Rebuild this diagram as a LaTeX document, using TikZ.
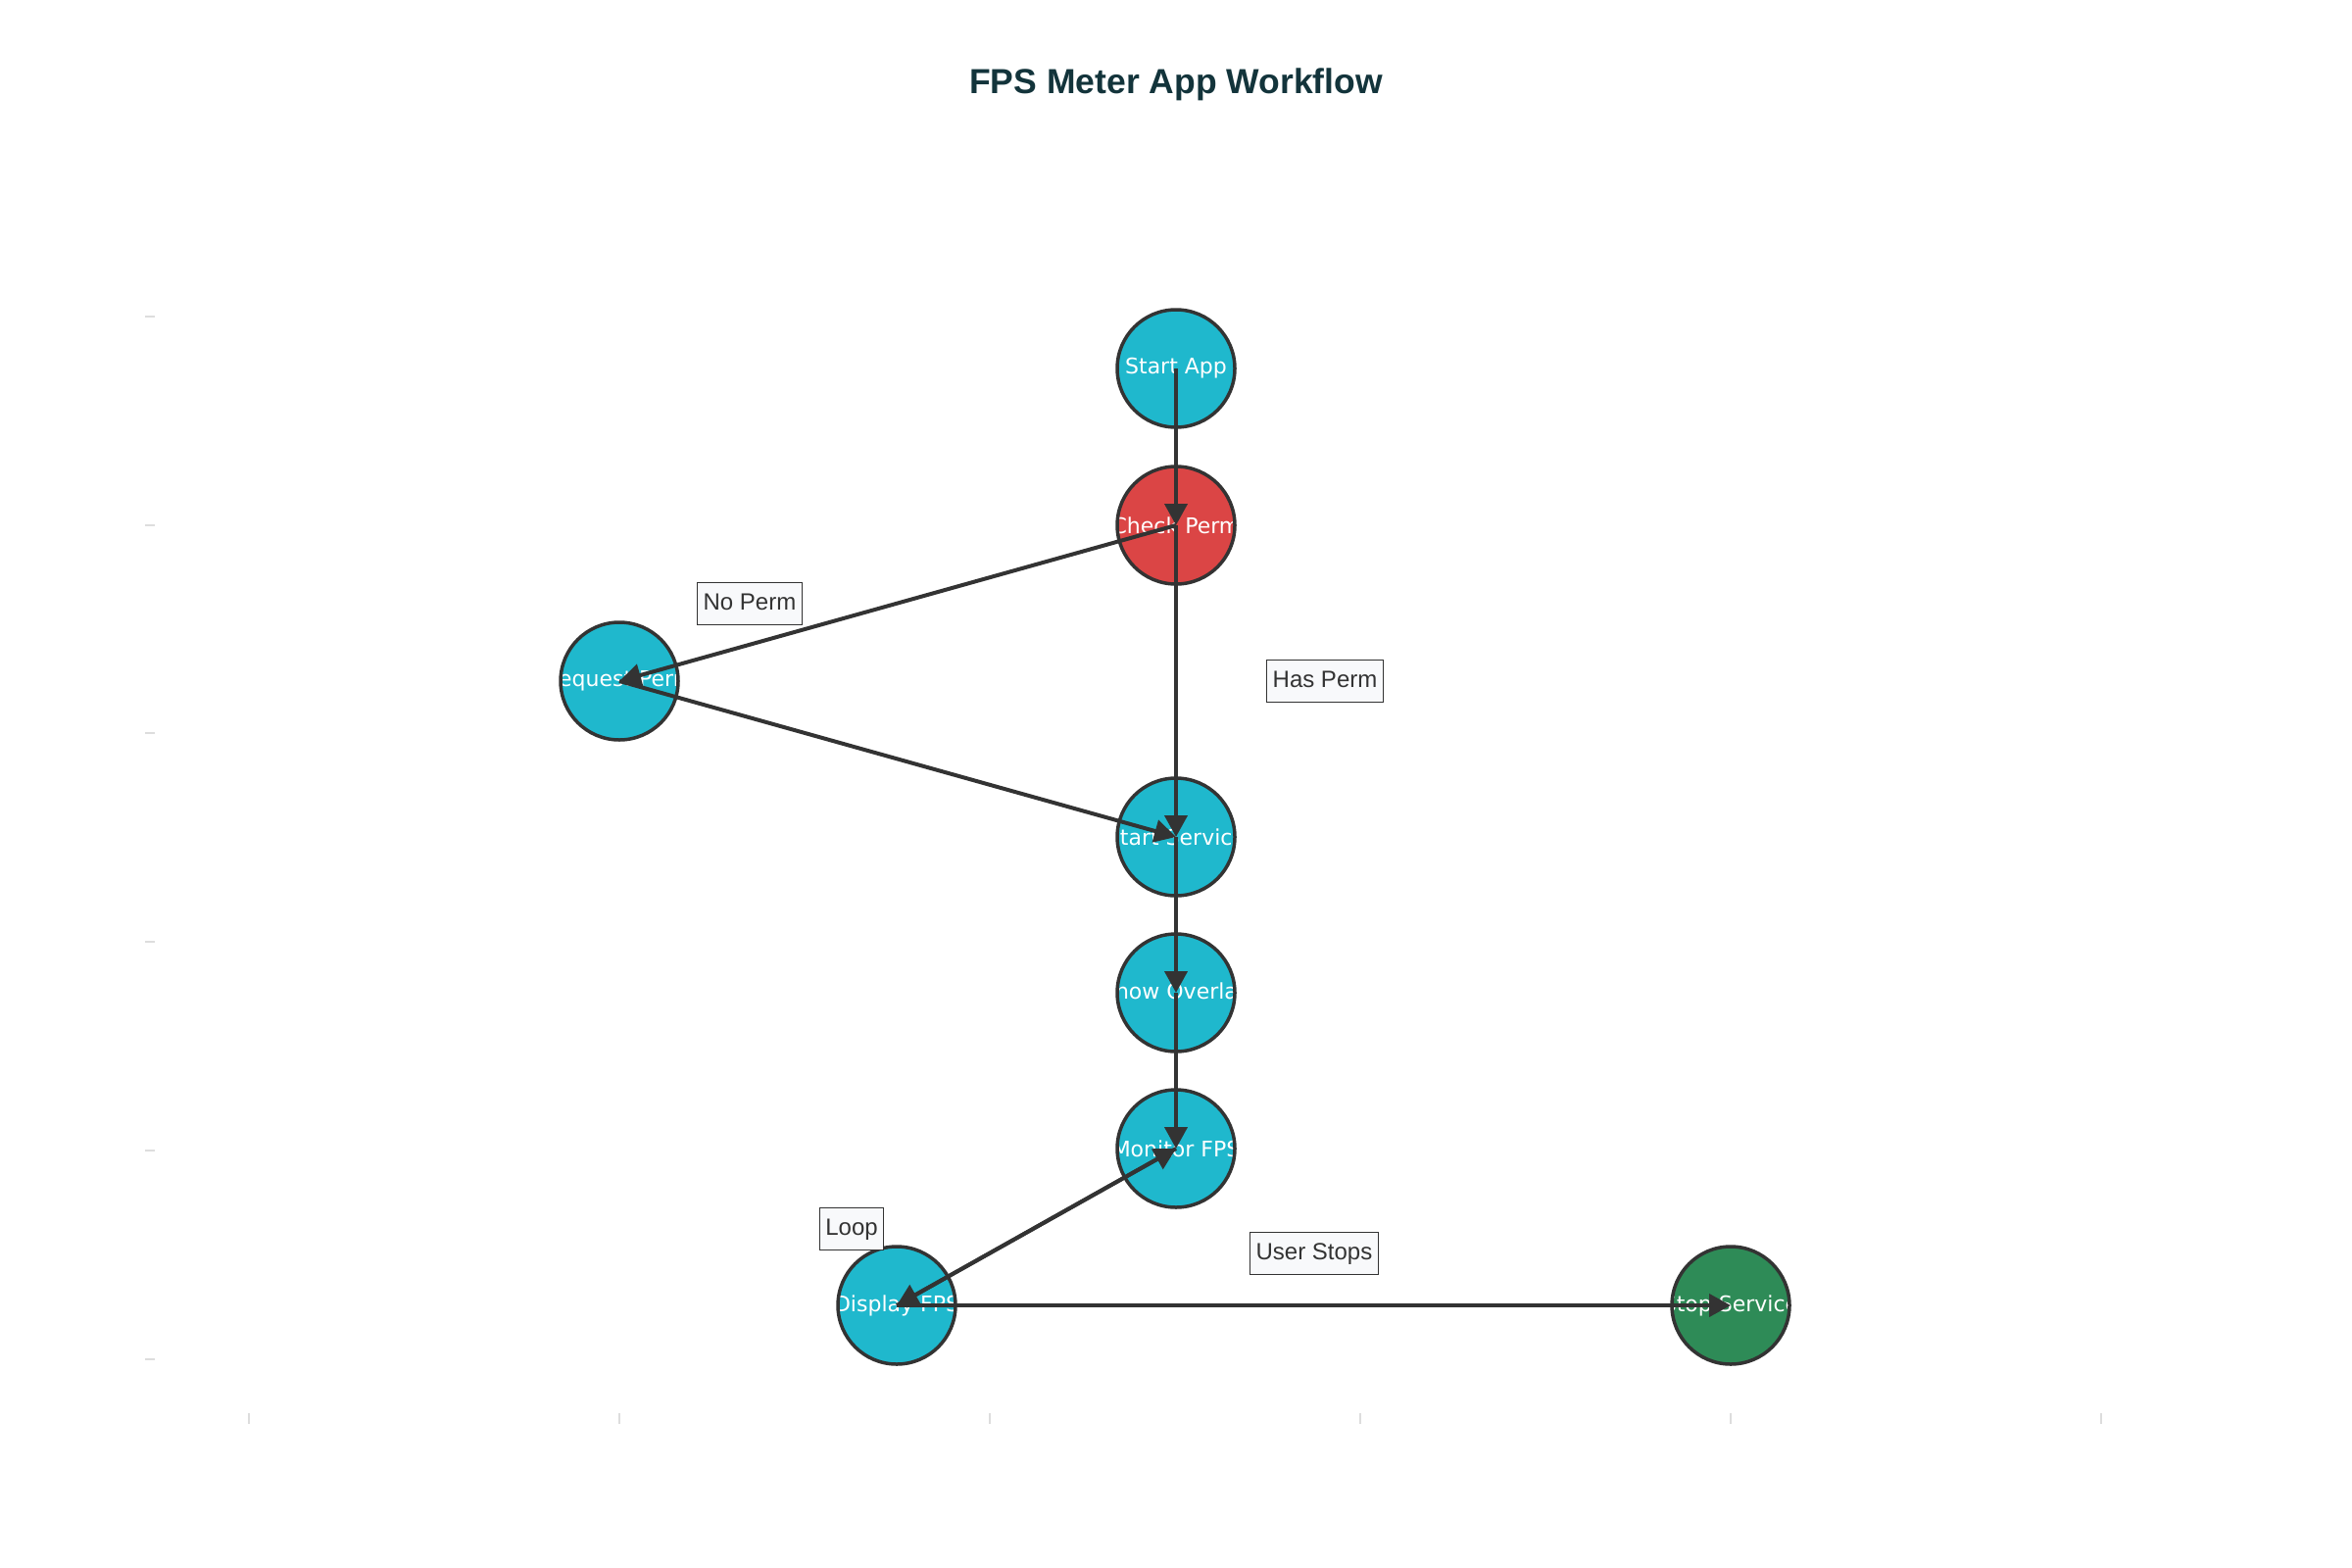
\documentclass[tikz,border=0pt]{standalone}
\usepackage{fontspec}
\setmainfont{Liberation Sans}
\newfontfamily\nodefont{DejaVu Sans}
\usetikzlibrary{arrows.meta}

\definecolor{tealfill}{HTML}{1FB8CD}
\definecolor{redfill}{HTML}{DB4545}
\definecolor{greenfill}{HTML}{2E8B57}
\definecolor{edgegray}{HTML}{333333}
\definecolor{titleteal}{HTML}{13343B}
\definecolor{tickgray}{HTML}{DDDDDD}
\definecolor{tagfill}{HTML}{F8F9FB}

\begin{document}
\begin{tikzpicture}[
        x=1pt, y=-1pt,
        flow/.style   = {circle, draw=edgegray, line width=3.5pt, minimum size=120pt, inner sep=0pt, fill=#1},
        clipped text/.style = {path picture={\node[nodetext] at (path picture bounding box.center) {#1};}},
        nodetext/.style = {text=white, font=\nodefont\fontsize{22}{26}\selectfont, inner sep=0pt},
        tag/.style    = {draw=edgegray, line width=1.5pt, fill=tagfill, text=edgegray,
                         font=\fontsize{24}{28}\selectfont, inner xsep=6pt, inner ysep=0pt,
                         text height=17pt, text depth=5pt, minimum height=43pt},
        link/.style   = {draw=edgegray, line width=4pt, -{Triangle[length=22pt, width=23pt]}},
        tick/.style   = {draw=tickgray, line width=1.5pt}]

        % canvas
        \useasboundingbox (0,0) rectangle (2400,1600);

        % title
        \node[text=titleteal, font=\bfseries\fontsize{35.5}{40}\selectfont] (title) at (1200,86) {FPS Meter App Workflow};

        % axis ticks
        \foreach \ty in {323,536,748,961,1174,1387}
        \draw[tick] (148,\ty) -- (158,\ty);
        \foreach \tx in {254,632,1010,1388,1766,2144}
        \draw[tick] (\tx,1442) -- (\tx,1453);

        % workflow steps
        \node[flow=tealfill,  clipped text={Start App}]     (start)   at (1200,376)  {};
        \node[flow=redfill,   clipped text={Check Perm}]    (check)   at (1200,536)  {};
        \node[flow=tealfill,  clipped text={Request Perm}]  (request) at (632,695)   {};
        \node[flow=tealfill,  clipped text={Start Service}] (service) at (1200,854)  {};
        \node[flow=tealfill,  clipped text={Show Overlay}]  (overlay) at (1200,1013) {};
        \node[flow=tealfill,  clipped text={Monitor FPS}]   (monitor) at (1200,1172) {};
        \node[flow=tealfill,  clipped text={Display FPS}]   (display) at (915,1332)  {};
        \node[flow=greenfill, clipped text={Stop Service}]  (stop)    at (1766,1332) {};

        % connectors, centre to centre
        \draw[link] (start.center)   -- (check.center);
        \draw[link] (check.center)   -- (request.center);
        \draw[link] (check.center)   -- (service.center);
        \draw[link] (request.center) -- (service.center);
        \draw[link] (service.center) -- (overlay.center);
        \draw[link] (overlay.center) -- (monitor.center);
        \draw[link] (monitor.center) -- (display.center);
        \draw[link] (display.center) -- (monitor.center);
        \draw[link] (display.center) -- (stop.center);

        % edge labels
        \node[tag] (noperm)    at (765,616)    {No Perm};
        \node[tag] (hasperm)   at (1352,695)   {Has Perm};
        \node[tag] (loop)      at (869,1254)   {Loop};
        \node[tag] (userstops) at (1341,1279)  {User Stops};

    \end{tikzpicture}
\end{document}
